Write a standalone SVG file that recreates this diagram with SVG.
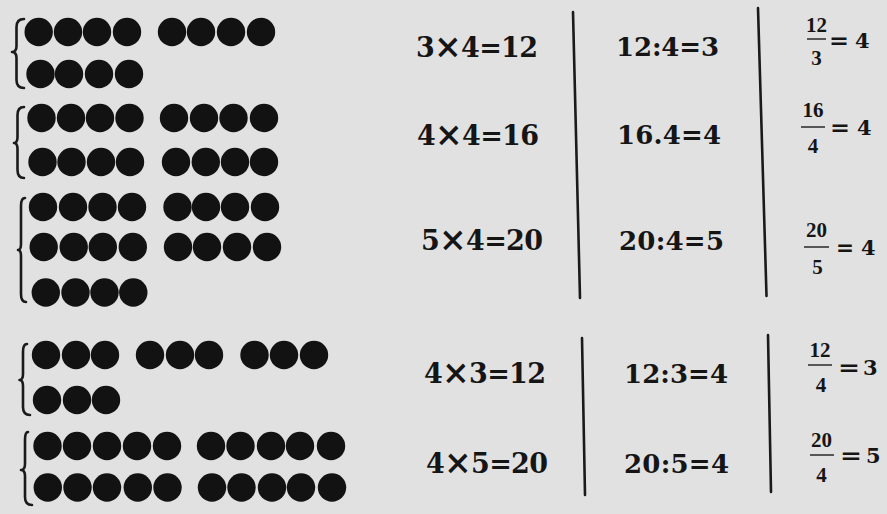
<svg xmlns="http://www.w3.org/2000/svg" width="887" height="514" viewBox="0 0 887 514">
<style>
.bg{fill:#e1e1e1}
.d{fill:#121212}
.br{fill:none;stroke:#1a1a1a;stroke-width:2.6;stroke-linecap:round;stroke-linejoin:round}
.vl{stroke:#1a1a1a;stroke-width:2.6;stroke-linecap:round}
.fb{stroke:#1a1a1a;stroke-width:1.4}
.t{font-family:"Liberation Serif","Times New Roman",serif;font-weight:bold;fill:#151515}
.w{font-family:"DejaVu Serif","Liberation Serif",serif;font-weight:bold;fill:#151515}
.c1{font-size:27px}
.c2{font-size:26px}
.x{font-size:33px}
.fr{font-size:21px;text-anchor:middle}
.eq{font-size:22px}
.rs{font-size:21px}
</style>
<rect class="bg" x="0" y="0" width="887" height="514"/>

<g id="dots1">
<path class="br" d="M24,19 Q16.5,19 16.5,27 L16.5,46 Q16.5,52 12,52 Q16.5,52 16.5,58 L16.5,80 Q16.5,88 24,88"/>
<circle class="d" cx="38.7" cy="32" r="14.2"/><circle class="d" cx="68" cy="32" r="14.2"/><circle class="d" cx="97" cy="32" r="14.2"/><circle class="d" cx="127" cy="32" r="14.2"/>
<circle class="d" cx="172" cy="32" r="14.2"/><circle class="d" cx="201" cy="32" r="14.2"/><circle class="d" cx="231" cy="32" r="14.2"/><circle class="d" cx="261" cy="32" r="14.2"/>
<circle class="d" cx="40.5" cy="74" r="14.2"/><circle class="d" cx="69" cy="74" r="14.2"/><circle class="d" cx="99" cy="74" r="14.2"/><circle class="d" cx="129" cy="74" r="14.2"/>
</g>

<g id="dots2">
<path class="br" d="M24,107 Q17.5,107 17.5,115 L17.5,137 Q17.5,143 14,143 Q17.5,143 17.5,149 L17.5,170 Q17.5,178 24,178"/>
<circle class="d" cx="41.5" cy="118" r="14.2"/><circle class="d" cx="71" cy="118" r="14.2"/><circle class="d" cx="100" cy="118" r="14.2"/><circle class="d" cx="129.5" cy="118" r="14.2"/>
<circle class="d" cx="174" cy="118" r="14.2"/><circle class="d" cx="204" cy="118" r="14.2"/><circle class="d" cx="233.5" cy="118" r="14.2"/><circle class="d" cx="264" cy="118" r="14.2"/>
<circle class="d" cx="42.5" cy="162" r="14.2"/><circle class="d" cx="71.5" cy="162" r="14.2"/><circle class="d" cx="101" cy="162" r="14.2"/><circle class="d" cx="130" cy="162" r="14.2"/>
<circle class="d" cx="176" cy="162" r="14.2"/><circle class="d" cx="205.8" cy="162" r="14.2"/><circle class="d" cx="235" cy="162" r="14.2"/><circle class="d" cx="264" cy="162" r="14.2"/>
</g>

<g id="dots3">
<path class="br" d="M25,198 Q21,198 21,206 L21,244 Q21,250 18,250 Q21,250 21,256 L21,294 Q21,302 26,302"/>
<circle class="d" cx="43" cy="207" r="14.2"/><circle class="d" cx="73" cy="207" r="14.2"/><circle class="d" cx="102.5" cy="207" r="14.2"/><circle class="d" cx="132" cy="207" r="14.2"/>
<circle class="d" cx="177.5" cy="207" r="14.2"/><circle class="d" cx="206" cy="207" r="14.2"/><circle class="d" cx="235" cy="207" r="14.2"/><circle class="d" cx="265" cy="207" r="14.2"/>
<circle class="d" cx="43.7" cy="247" r="14.2"/><circle class="d" cx="73.7" cy="247" r="14.2"/><circle class="d" cx="102.8" cy="247" r="14.2"/><circle class="d" cx="132.8" cy="247" r="14.2"/>
<circle class="d" cx="178" cy="247" r="14.2"/><circle class="d" cx="207" cy="247" r="14.2"/><circle class="d" cx="237" cy="247" r="14.2"/><circle class="d" cx="267" cy="247" r="14.2"/>
<circle class="d" cx="45.8" cy="292.5" r="14.2"/><circle class="d" cx="75.5" cy="292.5" r="14.2"/><circle class="d" cx="104.5" cy="292.5" r="14.2"/><circle class="d" cx="133.3" cy="292.5" r="14.2"/>
</g>

<g id="dots4">
<path class="br" d="M27,344 Q23,344 23,352 L23,374 Q23,380 19.5,380 Q23,380 23,386 L23,407 Q23,415 30,415"/>
<circle class="d" cx="46" cy="355" r="14.2"/><circle class="d" cx="76" cy="355" r="14.2"/><circle class="d" cx="105" cy="355" r="14.2"/>
<circle class="d" cx="150" cy="355" r="14.2"/><circle class="d" cx="180" cy="355" r="14.2"/><circle class="d" cx="209" cy="355" r="14.2"/>
<circle class="d" cx="254.5" cy="355" r="14.2"/><circle class="d" cx="284" cy="355" r="14.2"/><circle class="d" cx="314" cy="355" r="14.2"/>
<circle class="d" cx="47" cy="400" r="14.2"/><circle class="d" cx="77" cy="400" r="14.2"/><circle class="d" cx="106" cy="400" r="14.2"/>
</g>

<g id="dots5">
<path class="br" d="M28,432 Q25,432 25,440 L25,464 Q25,470 21,470 Q25,470 25,476 L25,497 Q25,505 32,505"/>
<circle class="d" cx="47.5" cy="446" r="14.2"/><circle class="d" cx="77" cy="446" r="14.2"/><circle class="d" cx="107" cy="446" r="14.2"/><circle class="d" cx="137" cy="446" r="14.2"/><circle class="d" cx="167" cy="446" r="14.2"/>
<circle class="d" cx="211" cy="446" r="14.2"/><circle class="d" cx="240.5" cy="446" r="14.2"/><circle class="d" cx="271" cy="446" r="14.2"/><circle class="d" cx="300" cy="446" r="14.2"/><circle class="d" cx="331" cy="446" r="14.2"/>
<circle class="d" cx="47.8" cy="487.5" r="14.2"/><circle class="d" cx="77.5" cy="487.5" r="14.2"/><circle class="d" cx="107" cy="487.5" r="14.2"/><circle class="d" cx="137.8" cy="487.5" r="14.2"/><circle class="d" cx="167.5" cy="487.5" r="14.2"/>
<circle class="d" cx="212" cy="487.5" r="14.2"/><circle class="d" cx="241.5" cy="487.5" r="14.2"/><circle class="d" cx="272" cy="487.5" r="14.2"/><circle class="d" cx="301" cy="487.5" r="14.2"/><circle class="d" cx="332" cy="487.5" r="14.2"/>
</g>

<g id="rules">
<line class="vl" x1="573" y1="12" x2="580" y2="298"/>
<line class="vl" x1="758" y1="8" x2="766.5" y2="296"/>
<line class="vl" x1="582" y1="338" x2="585" y2="495"/>
<line class="vl" x1="768" y1="335" x2="771" y2="492"/>
</g>

<g id="row1">
<text class="w c1" x="416" y="57" textLength="122" lengthAdjust="spacing">3<tspan class="x" dy="1">×</tspan><tspan dy="-1">4=12</tspan></text>
<text class="w c2" x="616" y="56" textLength="103" lengthAdjust="spacing">12:4=3</text>
<text class="t fr" x="816.5" y="32">12</text>
<line class="fb" x1="807" y1="39" x2="826" y2="39"/>
<text class="t fr" x="816.5" y="65">3</text>
<text class="w eq" x="829" y="48" textLength="20" lengthAdjust="spacingAndGlyphs">=</text>
<text class="w rs" x="855" y="48">4</text>
</g>

<g id="row2">
<text class="w c1" x="417" y="145" textLength="122" lengthAdjust="spacing">4<tspan class="x" dy="1">×</tspan><tspan dy="-1">4=16</tspan></text>
<text class="w c2" x="617" y="144" textLength="104" lengthAdjust="spacing">16.4=4</text>
<text class="t fr" x="813" y="117">16</text>
<line class="fb" x1="801" y1="127" x2="825" y2="127"/>
<text class="t fr" x="813" y="153">4</text>
<text class="w eq" x="830" y="135" textLength="20" lengthAdjust="spacingAndGlyphs">=</text>
<text class="w rs" x="857" y="135">4</text>
</g>

<g id="row3">
<text class="w c1" x="421" y="250" textLength="122" lengthAdjust="spacing">5<tspan class="x" dy="1">×</tspan><tspan dy="-1">4=20</tspan></text>
<text class="w c2" x="619" y="250" textLength="105" lengthAdjust="spacing">20:4=5</text>
<text class="t fr" x="816.5" y="237">20</text>
<line class="fb" x1="804" y1="247" x2="829" y2="247"/>
<text class="t fr" x="817.5" y="274">5</text>
<text class="w eq" x="836" y="255" textLength="18" lengthAdjust="spacingAndGlyphs">=</text>
<text class="w rs" x="861" y="255">4</text>
</g>

<g id="row4">
<text class="w c1" x="424" y="383" textLength="122" lengthAdjust="spacing">4<tspan class="x" dy="1">×</tspan><tspan dy="-1">3=12</tspan></text>
<text class="w c2" x="624" y="383" textLength="104" lengthAdjust="spacing">12:3=4</text>
<text class="t fr" x="820" y="357">12</text>
<line class="fb" x1="808" y1="365" x2="832" y2="365"/>
<text class="t fr" x="821" y="392">4</text>
<text class="w eq" x="838" y="375" textLength="22" lengthAdjust="spacingAndGlyphs">=</text>
<text class="w rs" x="863" y="375">3</text>
</g>

<g id="row5">
<text class="w c1" x="426" y="473" textLength="122" lengthAdjust="spacing">4<tspan class="x" dy="1">×</tspan><tspan dy="-1">5=20</tspan></text>
<text class="w c2" x="624" y="473" textLength="105" lengthAdjust="spacing">20:5=4</text>
<text class="t fr" x="821.5" y="447">20</text>
<line class="fb" x1="810" y1="455" x2="834" y2="455"/>
<text class="t fr" x="821.5" y="482">4</text>
<text class="w eq" x="840" y="463" textLength="22" lengthAdjust="spacingAndGlyphs">=</text>
<text class="w rs" x="866" y="463">5</text>
</g>
</svg>
